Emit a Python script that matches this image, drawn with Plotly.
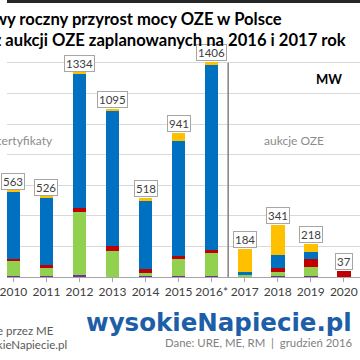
import plotly.graph_objects as go

years = ["2010", "2011", "2012", "2013", "2014", "2015", "2016*", "2017", "2018", "2019", "2020"]
totals = [563, 526, 1334, 1095, 518, 941, 1406, 184, 341, 218, 37]
hydro = [8, 8, 12, 3, 8, 8, 8, 2, 8, 9, 2]
biomass = [95, 50, 410, 168, 18, 111, 148, 10, 26, 57, 0]
biogas = [15, 22, 30, 33, 28, 20, 22, 0, 24, 52, 35]
wind = [440, 440, 877, 887, 446, 752, 1211, 22, 83, 48, 0]
solar = [5, 6, 5, 4, 18, 50, 17, 150, 200, 52, 0]

series = [
    ("woda", hydro, "#7030A0"),
    ("biomasa", biomass, "#92D050"),
    ("biogaz", biogas, "#C00000"),
    ("wiatr", wind, "#0070C0"),
    ("PV", solar, "#FFC000"),
]

FONT = "Lato"
H_TOP, H_BOT = 61, 277
def py(px):
    return (H_BOT - px) / (H_BOT - H_TOP)
def px_(x):
    return x / 360

fig = go.Figure()
idx = list(range(len(years)))
for name, vals, col in series:
    fig.add_trace(go.Bar(x=idx, y=vals, name=name, marker=dict(color=col, line=dict(width=0))))

for i, t in enumerate(totals):
    fig.add_annotation(x=i, y=t, text=str(t), showarrow=False, yanchor="bottom", yshift=1,
                       font=dict(family=FONT, size=11.5, color="#404040"),
                       bgcolor="white", bordercolor="#a6a6a6", borderwidth=1, borderpad=1)

# separator line
fig.add_shape(type="line", x0=6.5, x1=6.5, y0=0, y1=1400, xref="x", yref="y",
              line=dict(color="#808080", width=1.5))
# top dark band
fig.add_shape(type="rect", xref="paper", yref="paper", x0=0, x1=1, y0=py(3), y1=py(-1),
              line=dict(width=0), fillcolor="#262626")

def ann(text, x, y, xa, size, color, bold=False, ya="middle", family=FONT):
    fig.add_annotation(xref="paper", yref="paper", x=px_(x), y=py(y), text=("<b>%s</b>" % text) if bold else text,
                       showarrow=False, xanchor=xa, yanchor=ya,
                       font=dict(family=family, size=size, color=color))

ann("Dotychczasowy roczny przyrost mocy OZE w Polsce", 282, 19, "right", 16.6, "#000000", True)
ann("oraz z aukcji OZE zaplanowanych na 2016 i 2017 rok", 348, 39.5, "right", 16.6, "#000000", True)
ann("MW", 344, 79, "right", 13, "#000000", True)
ann("certyfikaty", 49, 140, "right", 12, "#8c8c8c")
ann("aukcje OZE", 293, 140, "center", 12, "#8c8c8c")
ann("* 2016 - dane szacowane przez ME", 50, 330, "right", 11.5, "#595959")
ann("Opracowanie: WysokieNapiecie.pl", 63, 344, "right", 11.5, "#595959")
ann("Dane: URE, ME, RM  |  grudzień 2016", 355, 342, "right", 11.4, "#7f7f7f")
ann("wysokieNapiecie.pl", 354, 322, "right", 24.5, "#1c5ea8", True, family="DejaVu Sans")

fig.update_layout(
    width=360, height=360, barmode="stack", bargap=0.585, showlegend=False,
    margin=dict(l=0, r=0, t=H_TOP, b=360 - H_BOT, pad=0),
    plot_bgcolor="white", paper_bgcolor="white",
    xaxis=dict(range=[-0.193, 10.49], tickmode="array", tickvals=idx, ticktext=years,
               tickson="boundaries", ticks="outside", ticklen=4, tickcolor="#a6a6a6",
               showline=True, linecolor="#a6a6a6", linewidth=1, showgrid=False,
               ticklabeloverflow="allow",
               tickfont=dict(family=FONT, size=12, color="#404040")),
    yaxis=dict(range=[0, 1412], dtick=200, showgrid=True, gridcolor="#d9d9d9", gridwidth=1,
               showticklabels=False, zeroline=False, ticks=""),
)
fig.write_html("out.html")
